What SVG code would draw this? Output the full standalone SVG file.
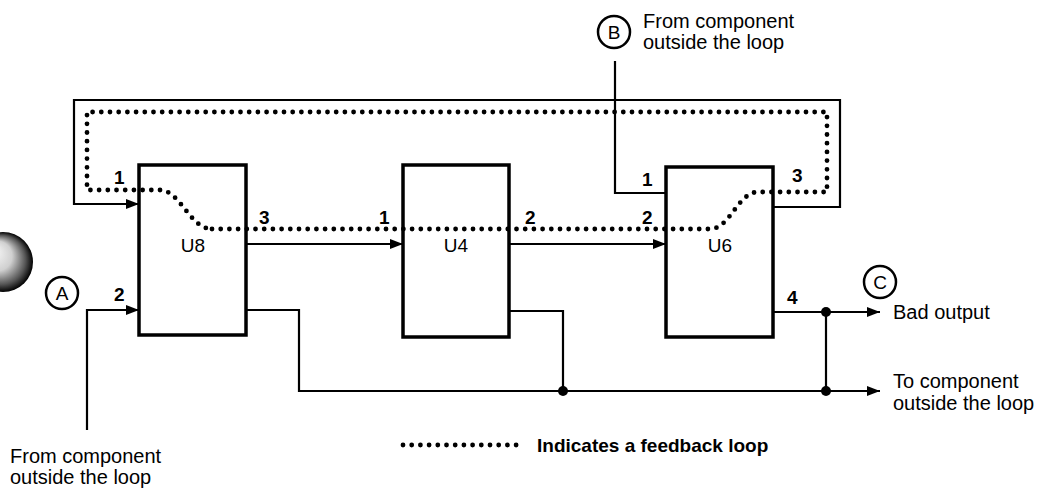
<svg xmlns="http://www.w3.org/2000/svg" width="1042" height="489" viewBox="0 0 1042 489">
<style>
text{font-family:"Liberation Sans",Arial,sans-serif;fill:#000}
.t{font-size:20px}
.n{font-size:19px;font-weight:bold}
.u{font-size:19px;text-anchor:middle}
.c{font-size:19px;text-anchor:middle}
.box{fill:#fff;stroke:#000;stroke-width:3.5}
.w{fill:none;stroke:#000;stroke-width:2.2}
.fb{fill:none;stroke:#000;stroke-width:4.8;stroke-linecap:round;stroke-dasharray:0 8.7}
.circ{fill:#fff;stroke:#000;stroke-width:2.5}
</style>
<defs>
<marker id="ah" markerUnits="userSpaceOnUse" markerWidth="14" markerHeight="11" refX="13" refY="5" orient="auto">
<path d="M0,0 L13,5 L0,10 z" fill="#000"/>
</marker>
<radialGradient id="sph" cx="0.5" cy="0.5" r="0.5" fx="0.3" fy="0.3">
<stop offset="0" stop-color="#fff"/>
<stop offset="0.5" stop-color="#d0d0d0"/>
<stop offset="0.82" stop-color="#555"/>
<stop offset="1" stop-color="#000"/>
</radialGradient>
</defs>
<circle cx="3" cy="262" r="30" fill="url(#sph)"/>
<g id="connectors">
<path class="w" d="M773 207 H840 V100 H74 V204 H139" marker-end="url(#ah)"/>
<path class="w" d="M615 61 V193 H666"/>
<path class="w" d="M87 430 V310 H139" marker-end="url(#ah)"/>
<path class="w" d="M246 244 H403" marker-end="url(#ah)"/>
<path class="w" d="M509 244 H666" marker-end="url(#ah)"/>
<path class="w" d="M246 310 H299 V391 H880" marker-end="url(#ah)"/>
<path class="w" d="M509 311 H563 V391"/>
<path class="w" d="M773 312 H880" marker-end="url(#ah)"/>
<path class="w" d="M826 312 V391"/>
<circle cx="563" cy="391" r="5"/>
<circle cx="826" cy="312" r="5"/>
<circle cx="826" cy="391" r="5"/>
</g>
<g id="U8"><rect class="box" x="139" y="165" width="107" height="170"/><text class="u" x="193" y="252">U8</text></g>
<g id="U4"><rect class="box" x="403" y="165" width="106" height="172"/><text class="u" x="456" y="252">U4</text></g>
<g id="U6"><rect class="box" x="666" y="167" width="107" height="170"/><text class="u" x="720" y="252">U6</text></g>
<g id="feedback-loop">
<path class="fb" d="M212 229 H710 C730 229 738 192 758 192 H827 V112 H87 V190 H160 C180 190 190 229 212 229"/>
</g>
<g id="pins">
<text class="n" x="114" y="184">1</text>
<text class="n" x="259" y="224">3</text>
<text class="n" x="114" y="301">2</text>
<text class="n" x="379" y="224">1</text>
<text class="n" x="525" y="224">2</text>
<text class="n" x="642" y="224">2</text>
<text class="n" x="642" y="186">1</text>
<text class="n" x="792" y="182">3</text>
<text class="n" x="787" y="304">4</text>
</g>
<g id="markerA"><circle class="circ" cx="62" cy="293" r="16"/><text class="c" x="62" y="300">A</text></g>
<g id="markerB"><circle class="circ" cx="614" cy="32" r="16"/><text class="c" x="614" y="39">B</text></g>
<g id="markerC"><circle class="circ" cx="880" cy="282" r="16"/><text class="c" x="880" y="289">C</text></g>
<g id="labels">
<text class="t" x="643" y="28">From component</text>
<text class="t" x="643" y="49">outside the loop</text>
<text class="t" x="10" y="463">From component</text>
<text class="t" x="10" y="484">outside the loop</text>
<text class="t" x="893" y="319">Bad output</text>
<text class="t" x="893" y="388">To component</text>
<text class="t" x="893" y="410">outside the loop</text>
</g>
<g id="legend">
<path class="fb" d="M403 445 H517"/>
<text x="537" y="452" style="font-size:19px;font-weight:bold">Indicates a feedback loop</text>
</g>
</svg>
